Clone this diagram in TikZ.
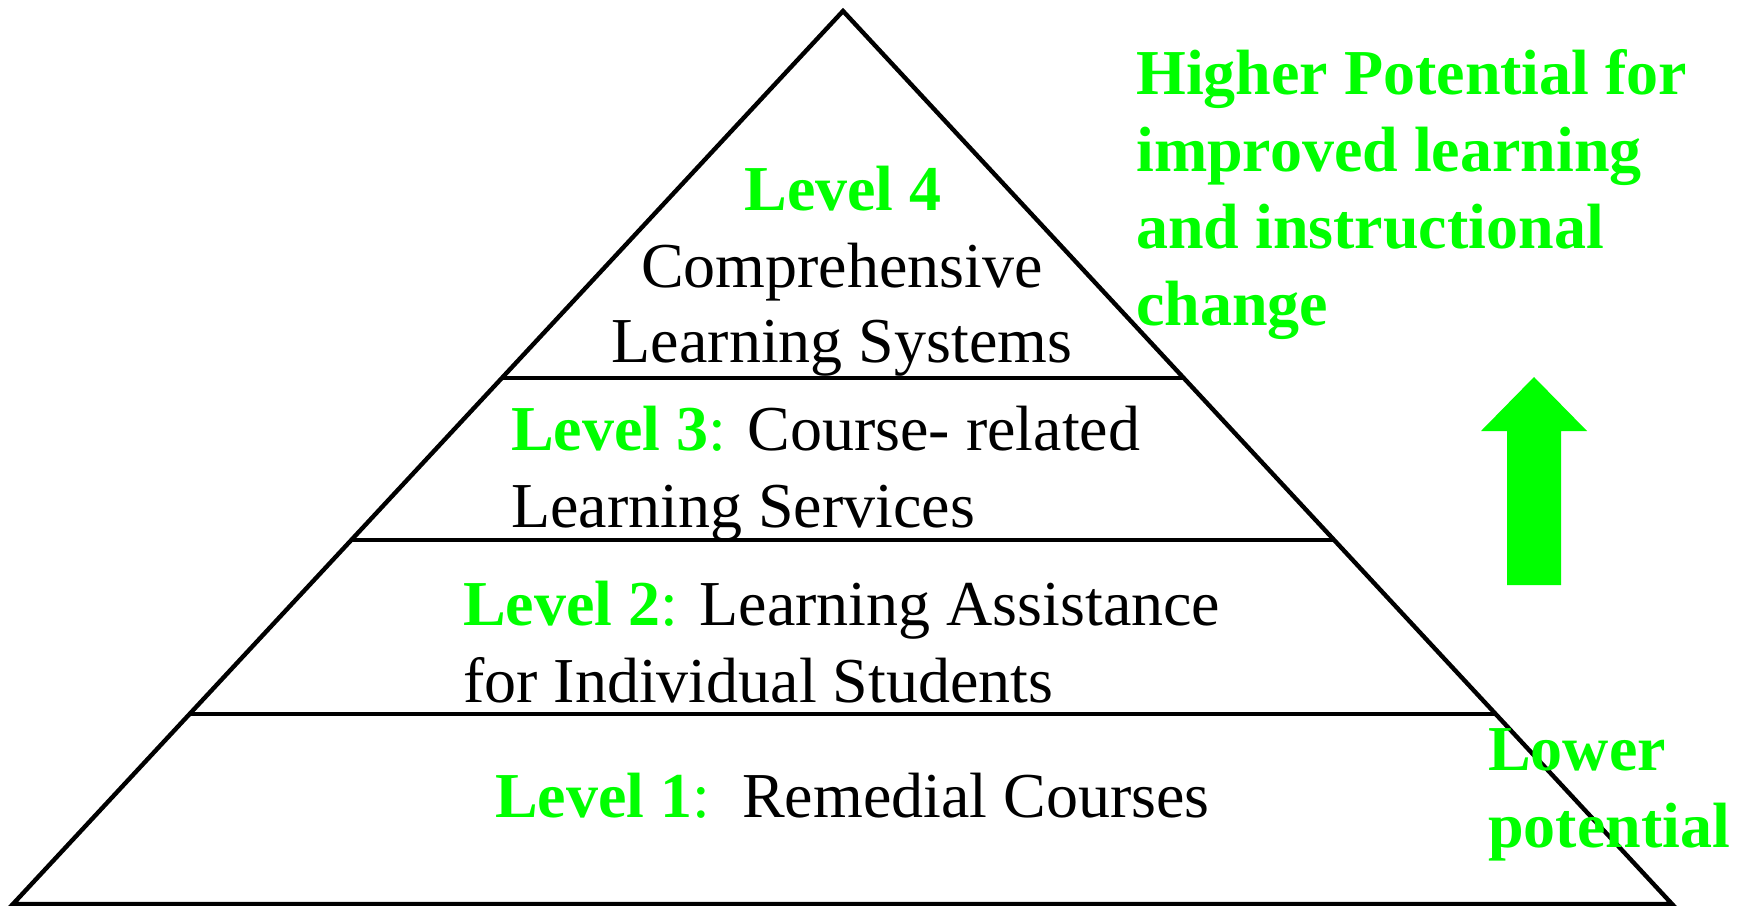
\documentclass[tikz,border=0pt]{standalone}
\usepackage{fontspec}
\setmainfont{Liberation Serif}
\usetikzlibrary{calc}
\definecolor{lvgreen}{RGB}{0, 255, 0}

\begin{document}
\begin{tikzpicture}[x=0.5pt, y=-0.5pt, line width=2.2pt,
  every node/.style={inner sep=0pt, font=\fontsize{32}{38}\selectfont},
  txt/.style={anchor=base west},
  ctr/.style={anchor=base},
  hi/.style={lvgreen, anchor=base west, font=\fontsize{32}{38}\selectfont\bfseries}]
  \useasboundingbox (0,0) rectangle (1745,905);

  % Pyramid outline
  \coordinate (apex) at (843,11);
  \coordinate (bl) at (13,904);
  \coordinate (br) at (1672,904);
  \draw (bl) -- (apex) -- (br) -- cycle;

  % Level dividers
  \draw ($(apex)!0.411!(bl)$) -- ($(apex)!0.411!(br)$);
  \draw ($(apex)!0.5924!(bl)$) -- ($(apex)!0.5924!(br)$);
  \draw ($(apex)!0.7872!(bl)$) -- ($(apex)!0.7872!(br)$);

  % Level 4
  \node[ctr, lvgreen, font=\fontsize{32}{38}\selectfont\bfseries] (lvfour) at (843,210) {Level 4};
  \node[ctr] (lvfoura) at (842,287) {Comprehensive};
  \node[ctr] (lvfourb) at (842,362) {Learning Systems};

  % Level 3
  \node[txt] (lvthreea) at (509,450) {\textcolor{lvgreen}{\textbf{Level 3}:} Course- related};
  \node[txt] (lvthreeb) at (509,527) {Learning Services};

  % Level 2
  \node[txt] (lvtwoa) at (461,625) {\textcolor{lvgreen}{\textbf{Level 2}:} Learning Assistance};
  \node[txt] (lvtwob) at (461,702) {for Individual Students};

  % Level 1
  \node[txt] (lvone) at (493,817) {\textcolor{lvgreen}{\textbf{Level 1}:}\ \ Remedial Courses};

  % Higher potential label
  \node[hi] (higha) at (1134,94) {Higher Potential for};
  \node[hi] (highb) at (1134,171) {improved learning};
  \node[hi] (highc) at (1134,248) {and instructional};
  \node[hi] (highd) at (1134,325) {change};

  % Up arrow
  \fill[lvgreen] (1507,585) -- (1507,431) -- (1481,431) -- (1534,377)
    -- (1587,431) -- (1561,431) -- (1561,585) -- cycle;

  % Lower potential label
  \node[hi] (lowa) at (1486,770) {Lower};
  \node[hi] (lowb) at (1486,847) {potential};
\end{tikzpicture}
\end{document}
